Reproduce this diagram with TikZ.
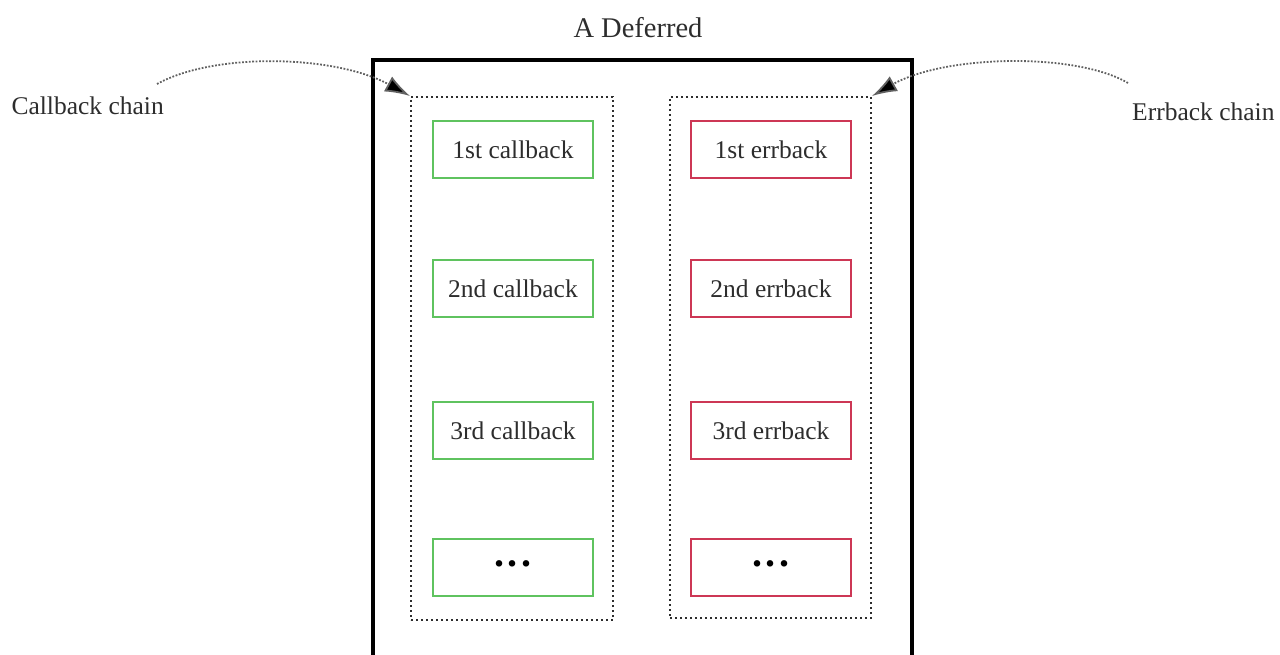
\documentclass[tikz,border=0pt]{standalone}
\usepackage{fontspec}
\setmainfont{Liberation Serif}
\usetikzlibrary{arrows.meta}
\definecolor{cbgreen}{RGB}{95,195,95}
\definecolor{ebred}{RGB}{205,55,85}
\definecolor{ink}{RGB}{45,45,45}
\begin{document}
\begin{tikzpicture}[x=1pt,y=-1pt,
  txt/.style={font=\fontsize{25.5}{30}\selectfont, text=ink},
  chainbox/.style={draw=ink, line width=2pt, dash pattern=on 2pt off 3pt, inner sep=0pt},
  cbbox/.style={draw=cbgreen, line width=2pt, minimum width=160pt, minimum height=57pt, inner sep=0pt, txt},
  ebbox/.style={draw=ebred, line width=2pt, minimum width=160pt, minimum height=57pt, inner sep=0pt, txt},
  pointer/.style={draw=ink!75, line width=1.8pt, dash pattern=on 1.8pt off 1.6pt, -{Latex[length=25pt,width=17pt,fill=black]}},
  dotsfont/.style={font=\fontsize{40}{40}\bfseries\selectfont, text=black}
]
\useasboundingbox (0,0) rectangle (1280,655);
\clip (0,0) rectangle (1280,655);

% the Deferred itself, running past the bottom edge
\node[draw=black, line width=3.2pt, minimum width=539pt, minimum height=640pt, inner sep=0pt] (deferred) at (642.5,380) {};
\node[txt, font=\fontsize{28.5}{32}\selectfont, anchor=base] (title) at (638,38) {A Deferred};

% the two chains
\node[chainbox, minimum width=202pt, minimum height=523pt] (cbchain) at (512,358.5) {};
\node[chainbox, minimum width=201pt, minimum height=521pt] (ebchain) at (770.5,357.5) {};

% callbacks
\node[cbbox] (cb1) at (513,149.5) {1st callback};
\node[cbbox] (cb2) at (513,288.5) {2nd callback};
\node[cbbox] (cb3) at (513,430.5) {3rd callback};
\node[cbbox, dotsfont] (cb4) at (513,567.5) {\raisebox{8pt}{.\hspace{3.5pt}.\hspace{3.5pt}.}};

% errbacks
\node[ebbox] (eb1) at (771,149.5) {1st errback};
\node[ebbox] (eb2) at (771,288.5) {2nd errback};
\node[ebbox] (eb3) at (771,430.5) {3rd errback};
\node[ebbox, dotsfont] (eb4) at (771,567.5) {\raisebox{8pt}{.\hspace{3.5pt}.\hspace{3.5pt}.}};

% side labels and their pointers
\node[txt, anchor=west] (cblabel) at (8,106) {Callback chain};
\node[txt, anchor=east] (eblabel) at (1278,112) {Errback chain};
\coordinate (cbstart) at (157,84);
\coordinate (ebstart) at (1128,83);
\draw[pointer] (cbstart) .. controls (215,52) and (335,55) .. (cbchain.north west);
\draw[pointer] (ebstart) .. controls (1075,52) and (945,55) .. (ebchain.north east);
\end{tikzpicture}
\end{document}
